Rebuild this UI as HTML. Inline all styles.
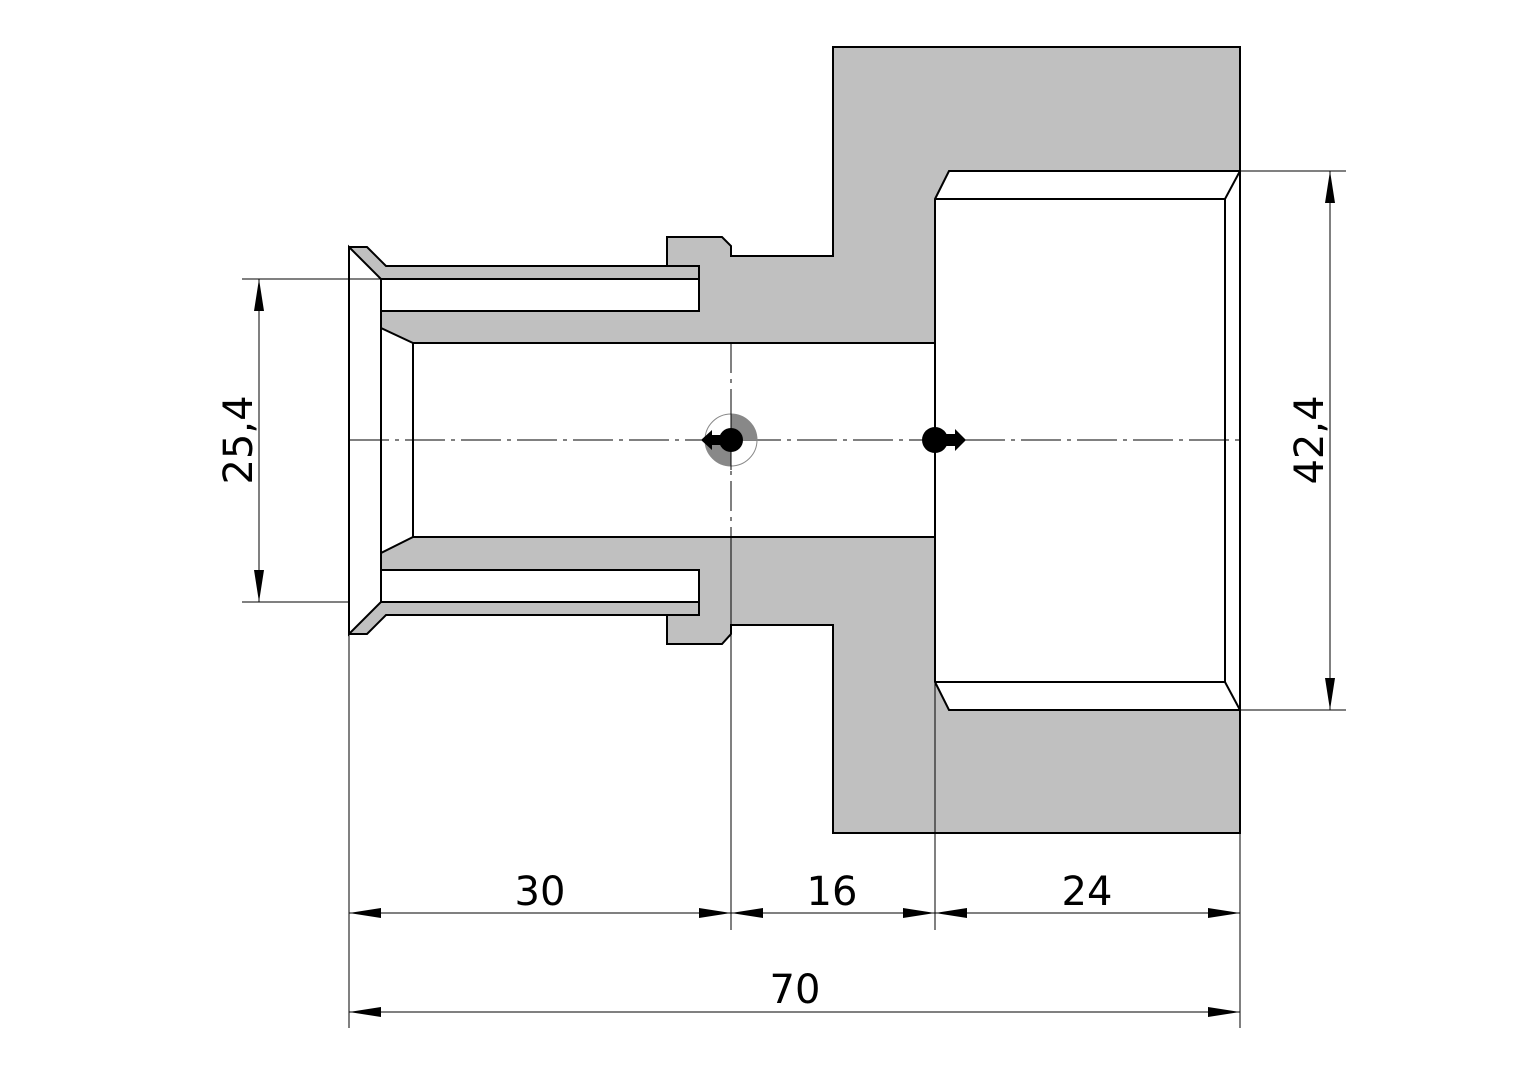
<!DOCTYPE html>
<html><head><meta charset="utf-8"><style>html,body{margin:0;padding:0;background:#fff}svg{display:block}</style></head><body>
<svg width="1528" height="1080" viewBox="0 0 1528 1080" xmlns="http://www.w3.org/2000/svg">
<g stroke="#000" stroke-width="2" stroke-linejoin="miter">
<polygon fill="#c0c0c0" points="349,247 367,247 386,266 667,266 667,237 722,237 731,246 731,256 833,256 833,47 1240,47 1240,833 833,833 833,625 731,625 731,634 722,644 667,644 667,615 386,615 367,634 349,634"/>
<polygon fill="#fff" points="349,247 381,279 381,602 349,634"/>
<rect x="381" y="279" width="318" height="32" fill="#fff"/>
<rect x="381" y="570" width="318" height="32" fill="#fff"/>
<polygon fill="#fff" points="381,328 413,343 935,343 935,537 413,537 381,553"/>
<polyline fill="none" points="386,266 699,266 699,279"/>
<polyline fill="none" points="386,615 699,615 699,602"/>
<line x1="413" y1="343" x2="413" y2="537"/>
<polygon fill="#fff" points="935,199 949,171 1240,171 1240,710 949,710 935,682"/>
<polyline fill="none" points="935,199 1225,199 1240,171"/>
<line x1="1225" y1="199" x2="1225" y2="682"/>
<polyline fill="none" points="935,682 1225,682 1240,710"/>
</g>
<g stroke="#000" stroke-width="1" fill="none">
<line x1="349" y1="440" x2="1240" y2="440" stroke-dasharray="40,6,4,6"/>
<line x1="731" y1="343" x2="731" y2="537" stroke-dasharray="30,6,4,6"/>
<line x1="935" y1="343" x2="935" y2="537" stroke-dasharray="30,6,4,6"/>
<line x1="731" y1="537" x2="731" y2="930"/>
<line x1="935" y1="537" x2="935" y2="930"/>
<line x1="349" y1="634" x2="349" y2="1028"/>
<line x1="1240" y1="833" x2="1240" y2="1028"/>
<line x1="242" y1="279" x2="381" y2="279"/>
<line x1="242" y1="602" x2="349" y2="602"/>
<line x1="1240" y1="171" x2="1346" y2="171"/>
<line x1="1240" y1="710" x2="1346" y2="710"/>
<line x1="349" y1="913" x2="1240" y2="913"/>
<line x1="349" y1="1012" x2="1240" y2="1012"/>
<line x1="259" y1="279" x2="259" y2="602"/>
<line x1="1330" y1="171" x2="1330" y2="710"/>
</g>
<g fill="#000">
<polygon points="349,913 381,908 381,918"/>
<polygon points="731,913 699,908 699,918"/>
<polygon points="731,913 763,908 763,918"/>
<polygon points="935,913 903,908 903,918"/>
<polygon points="935,913 967,908 967,918"/>
<polygon points="1240,913 1208,908 1208,918"/>
<polygon points="349,1012 381,1007 381,1017"/>
<polygon points="1240,1012 1208,1007 1208,1017"/>
<polygon points="259,279 254,311 264,311"/>
<polygon points="259,602 254,570 264,570"/>
<polygon points="1330,171 1325,203 1335,203"/>
<polygon points="1330,710 1325,678 1335,678"/>
</g>
<path d="M731,440 L731,414 A26,26 0 0 1 757,440 Z M731,440 L731,466 A26,26 0 0 1 705,440 Z" fill="#888"/>
<circle cx="731" cy="440" r="26" fill="none" stroke="#888" stroke-width="1"/>
<line x1="731" y1="410" x2="731" y2="470" stroke="#000" stroke-width="1"/>
<g fill="#000">
<circle cx="731" cy="440" r="12"/>
<polygon points="701,440 712,430 712,435 731,435 731,445 712,445 712,450"/>
<circle cx="935" cy="440" r="13"/>
<polygon points="966,440 955,429 955,434 935,434 935,446 955,446 955,451"/>
</g>
<g font-family="'DejaVu Sans','Liberation Sans',sans-serif" font-size="40" fill="#000" text-anchor="middle">
<text x="540" y="905">30</text>
<text x="832" y="905">16</text>
<text x="1087" y="905">24</text>
<text x="795" y="1003">70</text>
<text transform="translate(252,440) rotate(-90)">25,4</text>
<text transform="translate(1323,440) rotate(-90)">42,4</text>
</g>
</svg>
</body></html>
